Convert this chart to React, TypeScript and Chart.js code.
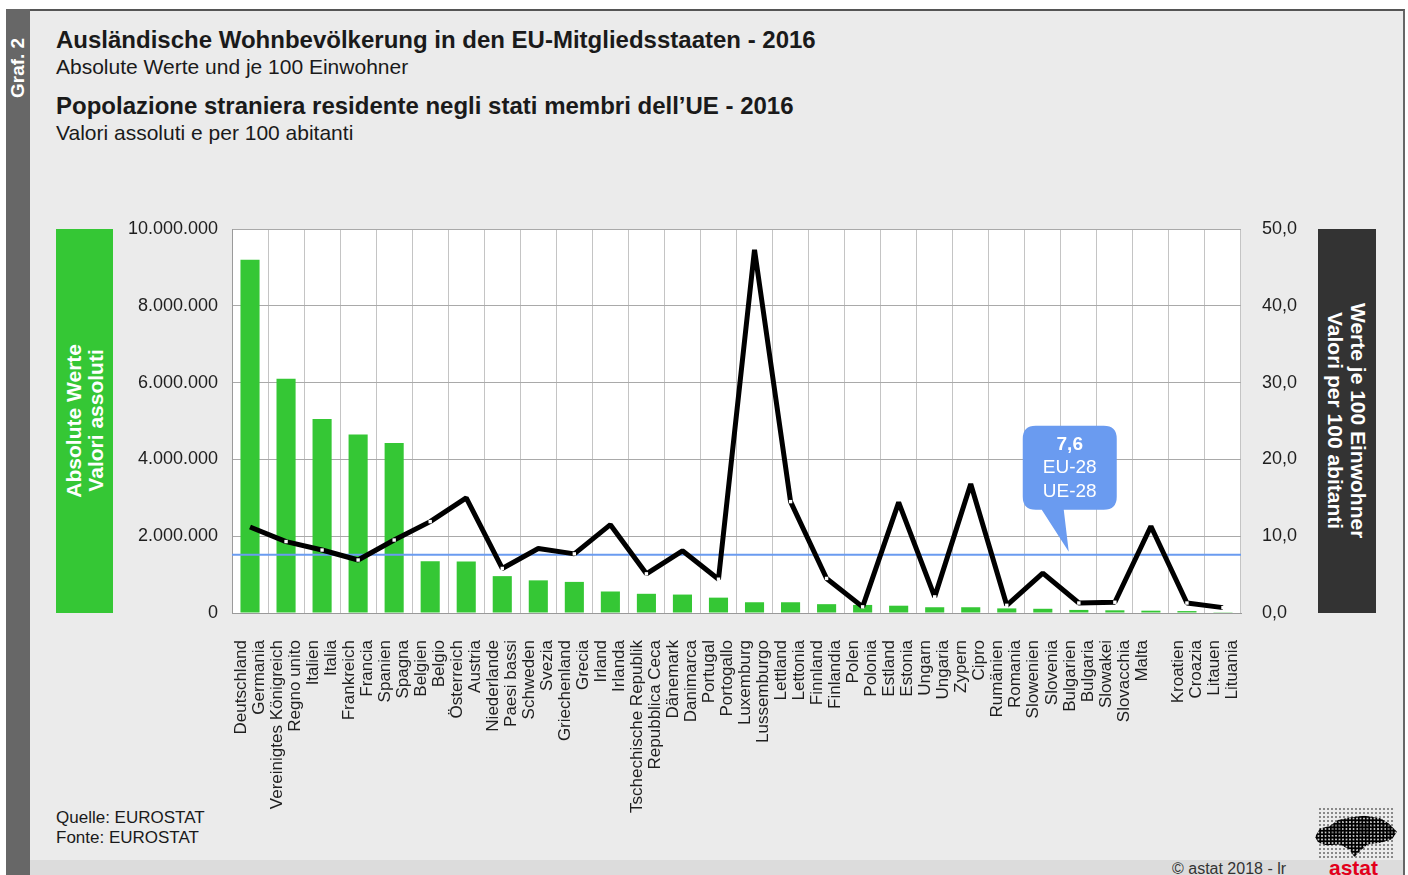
import React, { useEffect, useRef } from "react";
import { Chart, registerables } from "chart.js";

Chart.register(...registerables);

// ---------- data ----------
const categories: string[][] = [
  ["Deutschland", "Germania"],
  ["Vereinigtes Königreich", "Regno unito"],
  ["Italien", "Italia"],
  ["Frankreich", "Francia"],
  ["Spanien", "Spagna"],
  ["Belgien", "Belgio"],
  ["Österreich", "Austria"],
  ["Niederlande", "Paesi bassi"],
  ["Schweden", "Svezia"],
  ["Griechenland", "Grecia"],
  ["Irland", "Irlanda"],
  ["Tschechische Republik", "Repubblica Ceca"],
  ["Dänemark", "Danimarca"],
  ["Portugal", "Portogallo"],
  ["Luxemburg", "Lussemburgo"],
  ["Lettland", "Lettonia"],
  ["Finnland", "Finlandia"],
  ["Polen", "Polonia"],
  ["Estland", "Estonia"],
  ["Ungarn", "Ungaria"],
  ["Zypern", "Cipro"],
  ["Rumänien", "Romania"],
  ["Slowenien", "Slovenia"],
  ["Bulgarien", "Bulgaria"],
  ["Slowakei", "Slovacchia"],
  ["Malta"],
  ["Kroatien", "Croazia"],
  ["Litauen", "Lituania"],
];

const absoluteValues: number[] = [
  9200000, 6100000, 5050000, 4650000, 4430000, 1350000, 1340000, 960000,
  850000, 810000, 560000, 500000, 480000, 400000, 280000, 280000, 230000,
  210000, 190000, 150000, 150000, 120000, 110000, 80000, 70000, 60000, 50000,
  20000,
];

const per100Values: number[] = [
  11.2, 9.3, 8.2, 6.9, 9.5, 11.9, 15.0, 5.8, 8.4, 7.7, 11.5, 5.1, 8.1, 4.4,
  47.3, 14.5, 4.5, 0.8, 14.4, 2.1, 16.8, 1.0, 5.2, 1.3, 1.4, 11.3, 1.3, 0.7,
];

const euAverage = 7.6;
const euLabelLines: string[] = ["7,6", "EU-28", "UE-28"];
const calloutCategoryPosition = 22.72;

const leftAxisMax = 10000000;
const leftAxisStep = 2000000;
const rightAxisMax = 50;
const rightAxisStep = 10;

const titleDe = "Ausländische Wohnbevölkerung in den EU-Mitgliedsstaaten - 2016";
const subtitleDe = "Absolute Werte und je 100 Einwohner";
const titleIt = "Popolazione straniera residente negli stati membri dell’UE - 2016";
const subtitleIt = "Valori assoluti e per 100 abitanti";
const leftAxisTitle = ["Absolute Werte", "Valori assoluti"];
const rightAxisTitle = ["Werte je 100 Einwohner", "Valori per 100 abitanti"];
const sourceLines = ["Quelle: EUROSTAT", "Fonte: EUROSTAT"];
const graphTag = "Graf. 2";
const copyright = "© astat 2018 - lr";

// ---------- styles ----------
const FONT = "'Liberation Sans', Arial, Helvetica, sans-serif";
const W = 1408;
const H = 875;
const PLOT_LEFT = 232;
const PLOT_RIGHT = 1241;
const PLOT_TOP = 229;
const PLOT_BOTTOM = 613;
const GREEN = "#35c735";
const BLUE = "#6a9bf0";

const fmtThousands = (v: number) =>
  String(Math.round(v)).replace(/\B(?=(\d{3})+(?!\d))/g, ".");
const fmtDecimal = (v: number) => v.toFixed(1).replace(".", ",");

const isPeak = (i: number) => {
  const v = per100Values[i];
  const prev = i > 0 ? per100Values[i - 1] : -Infinity;
  const next = i < per100Values.length - 1 ? per100Values[i + 1] : -Infinity;
  return v > prev && v > next;
};

const overlayPlugin = {
  id: "overlay",
  beforeDraw(chart: any) {
    const { ctx, chartArea: a } = chart;
    ctx.save();
    ctx.fillStyle = "#ffffff";
    ctx.fillRect(a.left, a.top, a.right - a.left, a.bottom - a.top);
    ctx.restore();
  },
  beforeDatasetDraw(chart: any, args: any) {
    if (args.index !== 0) return;
    const { ctx, chartArea: a } = chart;
    const y = chart.scales.y1.getPixelForValue(euAverage);
    ctx.save();
    ctx.strokeStyle = BLUE;
    ctx.lineWidth = 2;
    ctx.beginPath();
    ctx.moveTo(a.left, y);
    ctx.lineTo(a.right, y);
    ctx.stroke();
    ctx.restore();
  },
  afterDatasetsDraw(chart: any) {
    const { ctx } = chart;
    const tx = chart.scales.x.getPixelForValue(calloutCategoryPosition);
    const ty = chart.scales.y1.getPixelForValue(euAverage) - 3;
    const left = tx - 46;
    const right = tx + 48;
    const top = ty - 126;
    const bottom = ty - 42;
    const r = 13;
    ctx.save();
    ctx.fillStyle = BLUE;
    ctx.beginPath();
    ctx.moveTo(left + r, top);
    ctx.lineTo(right - r, top);
    ctx.quadraticCurveTo(right, top, right, top + r);
    ctx.lineTo(right, bottom - r);
    ctx.quadraticCurveTo(right, bottom, right - r, bottom);
    ctx.lineTo(tx - 5, bottom);
    ctx.lineTo(tx, ty);
    ctx.lineTo(tx - 27, bottom);
    ctx.lineTo(left + r, bottom);
    ctx.quadraticCurveTo(left, bottom, left, bottom - r);
    ctx.lineTo(left, top + r);
    ctx.quadraticCurveTo(left, top, left + r, top);
    ctx.closePath();
    ctx.fill();
    ctx.fillStyle = "#ffffff";
    ctx.textAlign = "center";
    ctx.textBaseline = "middle";
    const cx = (left + right) / 2;
    euLabelLines.forEach((line, i) => {
      ctx.font = `${i === 0 ? "bold " : ""}19px ${FONT}`;
      ctx.fillText(line, cx, top + 19 + i * 23.5);
    });
    ctx.restore();
  },
};

function ChartCanvas() {
  const ref = useRef<HTMLCanvasElement | null>(null);
  useEffect(() => {
    if (!ref.current) return;
    Chart.defaults.font.family = FONT;
    const chart = new Chart(ref.current, {
      type: "bar",
      data: {
        labels: categories,
        datasets: [
          {
            type: "line",
            label: "per100",
            data: per100Values,
            yAxisID: "y1",
            borderColor: "#000000",
            borderWidth: 5,
            borderJoinStyle: "bevel",
            pointStyle: "rect",
            pointRadius: (c: any) => (isPeak(c.dataIndex) ? 0 : 2.4),
            pointBackgroundColor: "#ffffff",
            pointBorderWidth: 0,
            tension: 0,
            order: 0,
          } as any,
          {
            type: "bar",
            label: "abs",
            data: absoluteValues,
            yAxisID: "y",
            backgroundColor: GREEN,
            categoryPercentage: 1,
            barPercentage: 0.53,
            order: 1,
          },
        ],
      },
      options: {
        responsive: false,
        animation: false,
        events: [],
        layout: { padding: { top: PLOT_TOP, left: 0, right: 0, bottom: 0 } },
        plugins: { legend: { display: false }, tooltip: { enabled: false } },
        scales: {
          x: {
            type: "category",
            offset: true,
            grid: { color: "#c4c4c4", offset: true, drawTicks: false, lineWidth: 1 },
            border: { display: true, color: "#9a9a9a" },
            ticks: {
              autoSkip: false,
              minRotation: 90,
              maxRotation: 90,
              padding: 27,
              labelOffset: -9,
              color: "#1e1e1e",
              font: { size: 17, lineHeight: 1.06 },
            },
            afterFit: (s: any) => {
              s.height = H - PLOT_BOTTOM;
            },
          },
          y: {
            position: "left",
            min: 0,
            max: leftAxisMax,
            grid: { color: "#a9a9a9", drawTicks: false },
            border: { display: true, color: "#9a9a9a" },
            ticks: {
              stepSize: leftAxisStep,
              padding: 14,
              color: "#1e1e1e",
              font: { size: 18 },
              callback: (v: any) => fmtThousands(Number(v)),
            },
            afterFit: (s: any) => {
              s.width = PLOT_LEFT;
            },
          },
          y1: {
            position: "right",
            min: 0,
            max: rightAxisMax,
            grid: { display: false, drawTicks: false },
            border: { display: false },
            ticks: {
              stepSize: rightAxisStep,
              padding: 21,
              color: "#1e1e1e",
              font: { size: 18 },
              callback: (v: any) => fmtDecimal(Number(v)),
            },
            afterFit: (s: any) => {
              s.width = W - PLOT_RIGHT;
            },
          },
        },
      } as any,
      plugins: [overlayPlugin],
    });
    return () => chart.destroy();
  }, []);
  return (
    <canvas
      ref={ref}
      width={W}
      height={H}
      style={{ position: "absolute", left: 0, top: 0, width: W, height: H }}
    />
  );
}

export default function App() {
  const text = { position: "absolute" as const, fontFamily: FONT, color: "#1a1a1a", whiteSpace: "nowrap" as const };
  return (
    <div style={{ position: "absolute", left: 0, top: 0, width: W, height: H, overflow: "hidden", background: "#ffffff" }}>
      {/* panel */}
      <div style={{ position: "absolute", left: 6, top: 9, width: 1397, height: 870, background: "#ebebeb", borderTop: "2px solid #555", borderRight: "2px solid #666" }} />
      {/* bottom band */}
      <div style={{ position: "absolute", left: 30, top: 860, width: 1373, height: 20, background: "#dcdcdc" }} />
      {/* left strip */}
      <div style={{ position: "absolute", left: 6, top: 9, width: 24, height: 870, background: "#676767" }} />
      <div style={{ position: "absolute", left: 6, top: 26, width: 24, height: 72, writingMode: "vertical-rl", transform: "rotate(180deg)", color: "#fff", fontFamily: FONT, fontWeight: "bold", fontSize: 19, lineHeight: "24px", whiteSpace: "nowrap" }}>
        {graphTag}
      </div>
      {/* titles */}
      <div style={{ ...text, left: 56, top: 26, fontSize: 24, fontWeight: "bold", lineHeight: "normal" }}>{titleDe}</div>
      <div style={{ ...text, left: 56, top: 55, fontSize: 21, lineHeight: "normal" }}>{subtitleDe}</div>
      <div style={{ ...text, left: 56, top: 92, fontSize: 24, fontWeight: "bold", lineHeight: "normal" }}>{titleIt}</div>
      <div style={{ ...text, left: 56, top: 121, fontSize: 21, lineHeight: "normal" }}>{subtitleIt}</div>
      {/* left axis title box */}
      <div style={{ position: "absolute", left: 56, top: PLOT_TOP, width: 57, height: PLOT_BOTTOM - PLOT_TOP, background: GREEN, display: "flex", alignItems: "center", justifyContent: "center" }}>
        <div style={{ writingMode: "vertical-rl", transform: "rotate(180deg)", color: "#fff", fontFamily: FONT, fontWeight: "bold", fontSize: 21, lineHeight: "22px", textAlign: "center", whiteSpace: "nowrap" }}>
          {leftAxisTitle[0]}
          <br />
          {leftAxisTitle[1]}
        </div>
      </div>
      {/* right axis title box */}
      <div style={{ position: "absolute", left: 1318, top: PLOT_TOP, width: 58, height: PLOT_BOTTOM - PLOT_TOP, background: "#333333", display: "flex", alignItems: "center", justifyContent: "center" }}>
        <div style={{ writingMode: "vertical-rl", color: "#fff", fontFamily: FONT, fontWeight: "bold", fontSize: 21, lineHeight: "23px", textAlign: "center", whiteSpace: "nowrap" }}>
          {rightAxisTitle[0]}
          <br />
          {rightAxisTitle[1]}
        </div>
      </div>
      {/* source */}
      <div style={{ ...text, left: 56, top: 808, fontSize: 17, lineHeight: "20px" }}>
        {sourceLines[0]}
        <br />
        {sourceLines[1]}
      </div>
      {/* copyright */}
      <div style={{ ...text, left: 1172, top: 860, fontSize: 16, lineHeight: "normal", color: "#333" }}>{copyright}</div>
      {/* logo */}
      <div style={{ position: "absolute", left: 1318, top: 807, width: 76, height: 53, backgroundImage: "radial-gradient(circle, #888 0.8px, transparent 1.2px)", backgroundSize: "4px 4px" }} />
      <div style={{ position: "absolute", left: 1315, top: 815, width: 82, height: 42, backgroundImage: "radial-gradient(circle, #000 1.6px, transparent 1.9px)", backgroundSize: "3.5px 3.5px", clipPath: "polygon(0% 52%, 6% 32%, 18% 26%, 28% 12%, 42% 6%, 60% 2%, 80% 8%, 90% 20%, 100% 40%, 94% 58%, 80% 66%, 64% 70%, 56% 84%, 48% 100%, 42% 82%, 30% 70%, 14% 72%, 4% 66%)" }} />
      <div style={{ ...text, left: 1329, top: 856, fontSize: 21, fontWeight: "bold", lineHeight: "normal", color: "#e3001b" }}>astat</div>
      <ChartCanvas />
    </div>
  );
}
